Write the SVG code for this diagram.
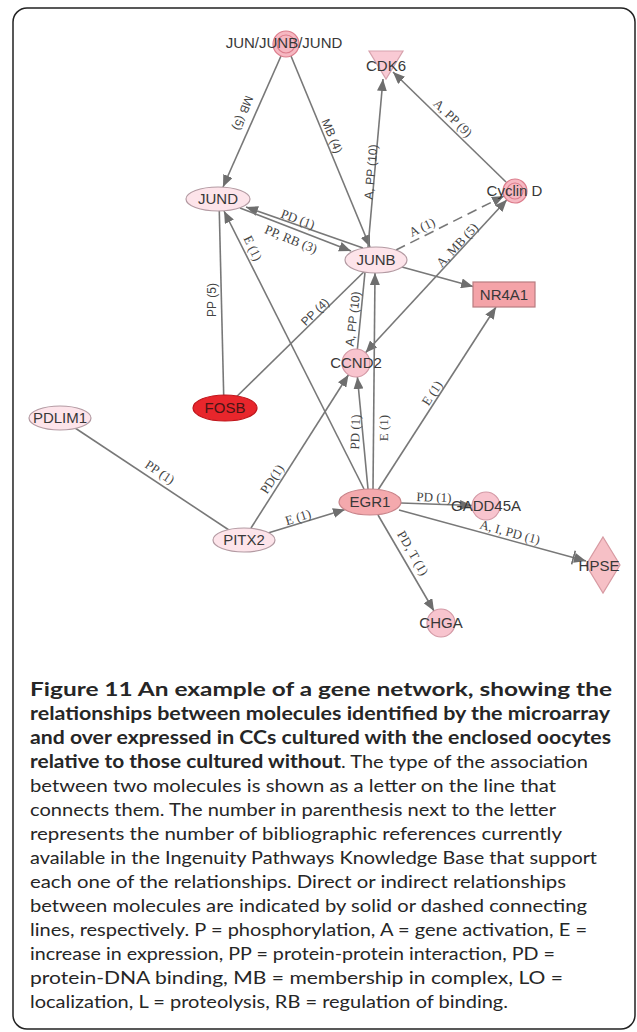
<svg xmlns="http://www.w3.org/2000/svg" width="637" height="1032" viewBox="0 0 637 1032">
<style>
.e{fill:none;stroke:#787878;stroke-width:1.6}
.a{marker-end:url(#arr)}
.d{stroke-dasharray:10 6}
.lb{font-family:"Liberation Serif","Times New Roman",serif;font-size:13px;fill:#444;text-anchor:middle;dominant-baseline:central}
.ls{font-family:"Liberation Sans",Arial,sans-serif;font-size:12px;fill:#444;text-anchor:middle;dominant-baseline:central}
.nt{font-family:"Liberation Sans",Arial,sans-serif;font-size:15px;fill:#383838;text-anchor:middle}
.pale{fill:#fde4ea;stroke:#b39aa2;stroke-width:1.2}
.pink{fill:#f8c4ce;stroke:#d39aa6;stroke-width:1.2}
.ring{fill:none;stroke:#dc7d8c;stroke-width:1.2}
.cap{font-family:Lato,"Open Sans","Liberation Sans",sans-serif;font-size:18px;fill:#262626}
.b{font-weight:700}
</style>
<defs>
<marker id="arr" viewBox="0 0 12 10" refX="12" refY="5" markerWidth="12" markerHeight="10" markerUnits="userSpaceOnUse" orient="auto"><path d="M0,0 L12,5 L0,10 z" fill="#6e6e6e"/></marker>
<marker id="arr2" viewBox="0 0 12 10" refX="12" refY="5" markerWidth="12" markerHeight="10" markerUnits="userSpaceOnUse" orient="auto-start-reverse"><path d="M0,0 L12,5 L0,10 z" fill="#6e6e6e"/></marker>
<marker id="inh" viewBox="0 0 14 16" refX="14" refY="8" markerWidth="14" markerHeight="16" markerUnits="userSpaceOnUse" orient="auto"><path d="M2,3 L14,8 L2,13 z" fill="#6e6e6e"/><path d="M1,1 V15" stroke="#6e6e6e" stroke-width="1.6"/></marker>
</defs>
<rect x="13" y="8" width="622" height="1021" rx="14" fill="#fff" stroke="#222" stroke-width="1.5"/>
<g id="connectors">
<path class="e a" d="M281,56 L223,187"/>
<path class="e a" d="M291,56 L370,247"/>
<path class="e a" d="M368,247 L383,79"/>
<path class="e a" d="M506,182 L393,72"/>
<path class="e a" d="M363,248 L246,207"/>
<path class="e a" d="M240,208 L351,251"/>
<path class="e a" d="M364,489 L224,211"/>
<path class="e" d="M219,199 L224,408"/>
<path class="e" d="M225,408 L376,260"/>
<path class="e" d="M356,363 L366,262"/>
<path class="e a" d="M402,267 L473,286.5"/>
<path class="e a d" d="M396,250 L504,196"/>
<path class="e" style="marker-start:url(#arr2);marker-end:url(#arr2)" d="M365.5,352.7 L506.9,199.8"/>
<path class="e a" d="M373,489 L375,273"/>
<path class="e a" d="M368,489 L357.4,377"/>
<path class="e a" d="M378,490 L496,307"/>
<path class="e a" d="M251,528 L348.5,374.8"/>
<path class="e a" d="M268,533 L345,509.6"/>
<path class="e" d="M60,418 L244,540"/>
<path class="e a" d="M401,503 L472,505.5"/>
<path class="e" style="marker-end:url(#inh)" d="M399,510 L586,561"/>
<path class="e a" d="M378,515 L434,611"/>
<text class="ls" transform="translate(243,113) rotate(111)">MB (5)</text>
<text class="ls" transform="translate(332,136) rotate(67)">MB (4)</text>
<text class="ls" transform="translate(371,172) rotate(-85)">A, PP (10)</text>
<text class="lb" transform="translate(453,118) rotate(44)">A, PP (9)</text>
<text class="lb" transform="translate(298,219) rotate(20)">PD (1)</text>
<text class="lb" transform="translate(291,239) rotate(22)">PP, RB (3)</text>
<text class="lb" transform="translate(253,248) rotate(64)">E (1)</text>
<text class="ls" transform="translate(212,300) rotate(-90)">PP (5)</text>
<text class="ls" transform="translate(315,312) rotate(-44)">PP (4)</text>
<text class="ls" transform="translate(353,319) rotate(-83)">A, PP (10)</text>
<text class="lb" transform="translate(422,227) rotate(-26)">A (1)</text>
<text class="lb" transform="translate(457,245) rotate(-47)">A, MB (5)</text>
<text class="lb" transform="translate(383,428) rotate(-90)">E (1)</text>
<text class="lb" transform="translate(355,432) rotate(-88)">PD (1)</text>
<text class="lb" transform="translate(432,393) rotate(-57)">E (1)</text>
<text class="lb" transform="translate(272,479) rotate(-57)">PD(1)</text>
<text class="lb" transform="translate(298,517) rotate(-17)">E (1)</text>
<text class="lb" transform="translate(160,472) rotate(34)">PP (1)</text>
<text class="lb" transform="translate(434,497) rotate(2)">PD (1)</text>
<text class="lb" transform="translate(510,532) rotate(15)">A, I, PD (1)</text>
<text class="lb" transform="translate(413,553) rotate(60)">PD, T (1)</text>
</g>
<g id="jun-junb-jund"><circle cx="286" cy="44" r="13" fill="#f6b8c2" stroke="#dc7d8c" stroke-width="1.2"/><circle class="ring" cx="286" cy="44" r="9"/><text class="nt" x="284" y="48">JUN/JUNB/JUND</text></g>
<g id="cdk6"><polygon points="369,51 403,51 386,79" fill="#f9cad4" stroke="#d7a2ad" stroke-width="1.2"/><text class="nt" x="386" y="71">CDK6</text></g>
<g id="cyclin-d"><circle cx="515" cy="191" r="12" fill="#f6b8c2" stroke="#dc7d8c" stroke-width="1.2"/><circle class="ring" cx="515" cy="191" r="8"/><text class="nt" x="514.5" y="196">Cyclin D</text></g>
<g id="jund"><ellipse class="pale" cx="218" cy="199" rx="32" ry="12"/><text class="nt" x="218" y="204">JUND</text></g>
<g id="junb"><ellipse class="pale" cx="376" cy="260" rx="31" ry="13"/><text class="nt" x="376" y="265">JUNB</text></g>
<g id="nr4a1"><rect x="473" y="282" width="62" height="25" fill="#f4a3a8" stroke="#b87c80" stroke-width="1.2"/><text class="nt" x="504" y="300">NR4A1</text></g>
<g id="ccnd2"><circle class="pink" cx="356" cy="363" r="14"/><text class="nt" x="356" y="368">CCND2</text></g>
<g id="fosb"><ellipse cx="225" cy="408" rx="32" ry="13" fill="#e8262c" stroke="#c0161c" stroke-width="1.2"/><text class="nt" x="225" y="413" style="fill:#4a1515">FOSB</text></g>
<g id="pdlim1"><ellipse class="pale" cx="60" cy="418" rx="31" ry="12"/><text class="nt" x="60" y="423">PDLIM1</text></g>
<g id="pitx2"><ellipse class="pale" cx="244" cy="540" rx="31" ry="12"/><text class="nt" x="244" y="545">PITX2</text></g>
<g id="egr1"><ellipse cx="370" cy="502" rx="31" ry="13" fill="#f4a9ad" stroke="#c9858b" stroke-width="1.2"/><text class="nt" x="370" y="507">EGR1</text></g>
<g id="gadd45a"><circle class="pink" cx="486" cy="506" r="14"/><text class="nt" x="486" y="511">GADD45A</text></g>
<g id="hpse"><polygon points="603,537 620,565 603,593 586,565" fill="#f6c0c6" stroke="#d79aa2" stroke-width="1.2"/><text class="nt" x="599" y="571">HPSE</text></g>
<g id="chga"><circle class="pink" cx="441" cy="623" r="14"/><text class="nt" x="441" y="628">CHGA</text></g>
<g id="caption">
<text class="cap b" x="30" y="696" textLength="582" lengthAdjust="spacingAndGlyphs">Figure 11 An example of a gene network, showing the</text>
<text class="cap b" x="30" y="720" textLength="580" lengthAdjust="spacingAndGlyphs">relationships between molecules identified by the microarray</text>
<text class="cap b" x="30" y="744" textLength="581" lengthAdjust="spacingAndGlyphs">and over expressed in CCs cultured with the enclosed oocytes</text>
<text class="cap b" x="30" y="768" textLength="311" lengthAdjust="spacingAndGlyphs">relative to those cultured without</text>
<text class="cap" x="341" y="768" textLength="247" lengthAdjust="spacingAndGlyphs">. The type of the association</text>
<text class="cap" x="30" y="792" textLength="526" lengthAdjust="spacingAndGlyphs">between two molecules is shown as a letter on the line that</text>
<text class="cap" x="30" y="816" textLength="526" lengthAdjust="spacingAndGlyphs">connects them. The number in parenthesis next to the letter</text>
<text class="cap" x="30" y="840" textLength="532" lengthAdjust="spacingAndGlyphs">represents the number of bibliographic references currently</text>
<text class="cap" x="30" y="864" textLength="567" lengthAdjust="spacingAndGlyphs">available in the Ingenuity Pathways Knowledge Base that support</text>
<text class="cap" x="30" y="888" textLength="536" lengthAdjust="spacingAndGlyphs">each one of the relationships. Direct or indirect relationships</text>
<text class="cap" x="30" y="912" textLength="557" lengthAdjust="spacingAndGlyphs">between molecules are indicated by solid or dashed connecting</text>
<text class="cap" x="30" y="936" textLength="557" lengthAdjust="spacingAndGlyphs">lines, respectively. P = phosphorylation, A = gene activation, E =</text>
<text class="cap" x="30" y="960" textLength="525" lengthAdjust="spacingAndGlyphs">increase in expression, PP = protein-protein interaction, PD =</text>
<text class="cap" x="30" y="984" textLength="533" lengthAdjust="spacingAndGlyphs">protein-DNA binding, MB = membership in complex, LO =</text>
<text class="cap" x="30" y="1008" textLength="478" lengthAdjust="spacingAndGlyphs">localization, L = proteolysis, RB = regulation of binding.</text>
</g>
</svg>
